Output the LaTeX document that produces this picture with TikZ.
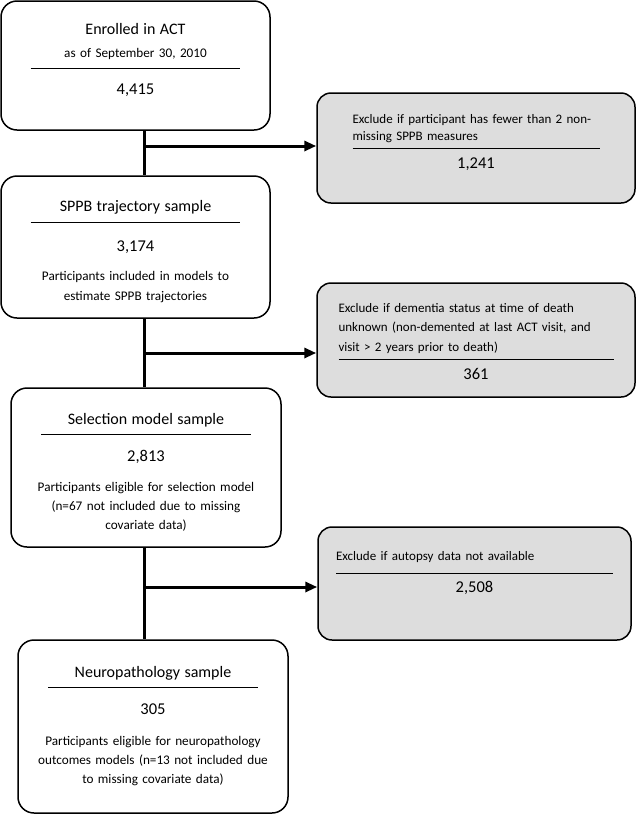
\documentclass[tikz,border=0pt]{standalone}
\usepackage{fontspec}
\setmainfont{Carlito}
\usepackage{tikz}
\usetikzlibrary{positioning,arrows.meta}
\definecolor{exclgray}{RGB}{221,221,221}
\newcommand{\flowhead}[1]{{\fontsize{16}{19.5}\selectfont #1}}
\newcommand{\flowcount}[1]{{\fontsize{16.5}{19.5}\selectfont #1}}
\newcommand{\flowrule}[1]{\rule{#1}{1.5pt}}

\begin{document}
\begin{tikzpicture}[
    x=1pt, y=-1pt,
    samplebox/.style={rectangle, draw, line width=1.5pt, rounded corners=16pt, fill=white, minimum width=269pt},
    exclbox/.style={rectangle, draw, line width=1.5pt, rounded corners=14pt, fill=exclgray, minimum width=318pt},
    content/.style={inner sep=0pt, text width=245pt, align=center, font=\fontsize{13.2}{19.5}\selectfont},
    exclcontent/.style={inner sep=0pt, align=left, font=\fontsize{13}{19.5}\selectfont},
    trunk/.style={line width=3pt},
    tip/.style={-{Triangle[length=12pt,width=10pt]}},
]
\useasboundingbox (0,0) rectangle (636,815);

% Left column - sample boxes
\node[samplebox, minimum height=129pt] (b1) at (135.5,65.5) {};
\node[samplebox, minimum height=142pt] (b2) at (135.5,247) {};
\node[samplebox, minimum height=159pt, minimum width=270pt] (b3) at (146,467.5) {};
\node[samplebox, minimum height=173pt, minimum width=270pt] (b4) at (153,726.5) {};

% Right column - exclusion boxes
\node[exclbox, minimum height=110pt] (e1) at (476,148) {};
\node[exclbox, minimum height=114pt] (e2) at (476,340) {};
\node[exclbox, minimum height=113pt, minimum width=313pt] (e3) at (474.5,583.5) {};

% Texts of the sample boxes
\node[content, below=34pt of b1.north, anchor=base] (t1) {
    \flowhead{Enrolled in ACT}\\[3.5pt]
    as of September 30, 2010\\[-7.75pt]
    \flowrule{210pt}\\[5.75pt]
    \flowcount{4,415}
};

\node[content, below=36pt of b2.north, anchor=base] (t2) {
    \flowhead{SPPB trajectory sample}\\[-7.75pt]
    \flowrule{210pt}\\[8.75pt]
    \flowcount{3,174}\\[9.5pt]
    Participants included in models to\\[0.5pt]
    estimate SPPB trajectories
};

\node[content, below=37pt of b3.north, anchor=base] (t3) {
    \flowhead{Selection model sample}\\[-8.75pt]
    \flowrule{210pt}\\[6.75pt]
    \flowcount{2,813}\\[10.5pt]
    Participants eligible for selection model\\[-0.5pt]
    (n=67 not included due to missing\\[-0.5pt]
    covariate data)
};

\node[content, below=38pt of b4.north, anchor=base] (t4) {
    \flowhead{Neuropathology sample}\\[-8.75pt]
    \flowrule{210pt}\\[6.75pt]
    \flowcount{305}\\[11.5pt]
    Participants eligible for neuropathology\\[-0.5pt]
    outcomes models (n=13 not included due\\[-0.5pt]
    to missing covariate data)
};

% Texts of the exclusion boxes
\node[exclcontent, text width=247pt, below=31pt of e1.north, anchor=base] (x1) {
    Exclude if participant has fewer than 2 non-\\[-2.5pt]
    missing SPPB measures\\[-10.5pt]
    \flowrule{\linewidth}\\[-0.5pt]
    \makebox[\linewidth]{\flowcount{1,241}}
};

\node[exclcontent, text width=275pt, below=30pt of e2.north, anchor=base] (x2) {
    Exclude if dementia status at time of death\\
    unknown (non-demented at last ACT visit, and\\
    visit > 2 years prior to death)\\[-10.75pt]
    \flowrule{\linewidth}\\[-0.25pt]
    \makebox[\linewidth]{\flowcount{361}}
};

\node[exclcontent, text width=277pt, below=34pt of e3.north, anchor=base] (x3) {
    Exclude if autopsy data not available\\[-5.75pt]
    \flowrule{\linewidth}\\[-1.25pt]
    \makebox[\linewidth]{\flowcount{2,508}}
};

% Connectors
\coordinate (j1) at (144,146);
\coordinate (j2) at (144,353);
\coordinate (j3) at (144,587);

\draw[trunk] (b1.south -| j1) -- (b2.north -| j1);
\draw[trunk] (b2.south -| j2) -- (b3.north -| j2);
\draw[trunk] (b3.south -| j3) -- (b4.north -| j3);

\draw[trunk, tip] (j1) -- (j1 -| e1.west);
\draw[trunk, tip] (j2) -- (j2 -| e2.west);
\draw[trunk, tip] (j3) -- (j3 -| e3.west);

\end{tikzpicture}
\end{document}
